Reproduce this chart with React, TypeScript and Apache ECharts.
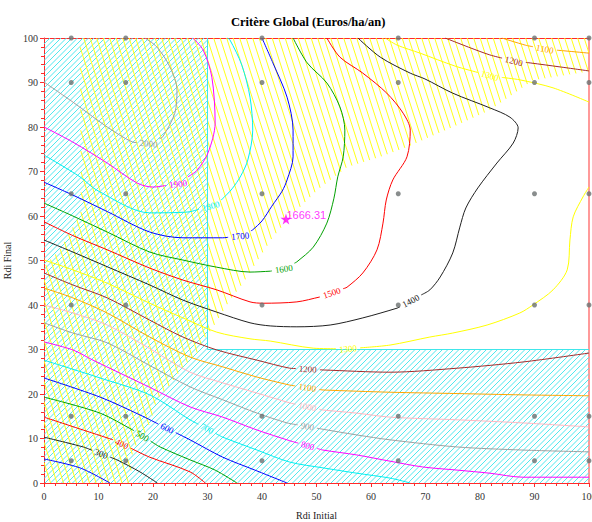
import React, { useEffect, useRef } from "react";
import * as echarts from "echarts";

type Pt = [number, number];

// Simulated runs (Rdi Initial x Rdi Final)
const sampleX = [5, 15, 40, 65, 90, 100];
const sampleY = [5, 15, 40, 65, 90, 100];

// Best point found by the optimiser
const optimum = { rdiInitial: 44.4, rdiFinal: 59.3, value: 1666.31 };

// Constraint zones (hatched)
const cyanZone: Pt[] = [[0, 0], [100, 0], [100, 30], [30, 30], [30, 100], [0, 100]];
const cyanZoneEdge: Pt[] = [[30, 100], [30, 30], [100, 30]];
const yellowZone: Pt[] = [
  [6.6, 100], [6.8, 68], [6.8, 61], [5.3, 57.5], [2.9, 52.4], [1.1, 50.1], [0, 48.5], [0, 0],
  [15.8, 0], [16.1, 5], [16.3, 7.4], [18.9, 11.9], [19.8, 14.8], [20.7, 18.7], [23.1, 22],
  [25.5, 26.1], [28.1, 29.2], [29.2, 32], [31, 35], [34.1, 41.1], [36.5, 44.9], [39.6, 50.8],
  [42, 55.3], [44.2, 58.4], [45.1, 59.8], [48.3, 63.6], [50.1, 65.8], [55.6, 71], [61.7, 73.3],
  [66.6, 75.5], [70.8, 77.8], [75, 80], [81.8, 83.8], [89.7, 90.5], [100, 92.5], [100, 100],
];

// Iso-lines of the global criterion (Euros/ha/an)
const c200: Pt[] = [[0, 5.4], [6.6, 3.4], [12.1, 0]];
const c300: Pt[] = [[0, 10.3], [7.2, 8.1], [13.4, 5.2], [17.6, 2.5], [20.8, 0]];
const c400: Pt[] = [[0, 14.8], [7.2, 11.9], [12.7, 9.7], [19.4, 5.8], [26.8, 2.5], [29.6, 0]];
const c500: Pt[] = [[0, 19.3], [10.3, 15.7], [16.3, 11.9], [21.3, 8.1], [26.8, 5.2], [31.4, 2.9], [35.4, 0]];
const c600: Pt[] = [[0, 23.6], [10.3, 19.3], [17.6, 15.3], [26.8, 9.7], [32.8, 5.8], [38.7, 2.9], [44.6, 0]];
const c700: Pt[] = [
  [0, 27.6], [10.3, 23.6], [19.4, 19.8], [26.8, 14.2], [32.8, 10.3], [39.1, 7.4], [45.1, 4.7],
  [51.2, 3.4], [57.4, 2.2], [63.5, 1.1], [67.2, 0],
];
const c800: Pt[] = [
  [0, 31.7], [5.3, 29.9], [9, 27.6], [19.4, 21.5], [26.8, 17.1], [32.8, 14.8], [39.1, 11.9],
  [45.1, 9.5], [51.2, 7.4], [57.4, 6.3], [63.5, 4.9], [69.5, 3.6], [75.8, 2.9], [81.8, 2.2],
  [87.9, 1.3], [100, 1.3],
];
const c900: Pt[] = [
  [0, 36], [5.3, 33.7], [11.6, 31.5], [19.4, 26.4], [26.8, 21.6], [32.8, 18.7], [39.1, 15.7],
  [44.6, 13.5], [50.6, 12.2], [57.4, 10.8], [63.5, 9.7], [75.8, 8.1], [87.9, 7.4], [100, 7.0],
];
const c1000: Pt[] = [
  [0, 40], [5.3, 38.2], [11.6, 35.5], [19.4, 30.2], [26.8, 24.9], [32.8, 22.5], [39.1, 20.2],
  [45.1, 18], [51.2, 16.4], [57.4, 15.7], [63.5, 14.8], [75.8, 14.2], [87.9, 13.5], [100, 12.6],
];
const c1100: Pt[] = [
  [0, 43.8], [5.3, 41.6], [11.6, 38.2], [19.4, 32.8], [26.8, 28.3], [32.8, 26.1], [39.1, 23.8],
  [45.1, 22], [51.2, 20.9], [63.5, 20.4], [75.8, 20.1], [87.9, 19.8], [100, 19.6],
];
const c1200: Pt[] = [
  [0, 47.2], [5.3, 44.5], [11.6, 41.6], [19.4, 36.6], [25.5, 32.8], [31.7, 29.9], [39.1, 27.6],
  [45.1, 25.8], [51.2, 25.4], [63.5, 24.9], [75.8, 25.8], [87.9, 27.2], [100, 29.2],
];
const c1300: Pt[] = [
  [0, 50.1], [5.3, 47.9], [11.6, 44.9], [19.4, 40.4], [25.5, 37.1], [31.7, 33.9], [37.8, 32.4],
  [41.5, 31.9], [49.4, 30.3], [55.6, 30.1], [63.5, 31.0], [70.8, 32.8], [75, 33.7], [81.3, 35.5],
  [87.3, 38.2], [89.7, 40], [93.4, 43.4], [96, 47.9], [96.5, 54.6], [97.1, 59.8], [98.9, 64.3],
  [100, 66.5],
];
const c1400: Pt[] = [
  [0, 54.6], [5.3, 51.9], [11.6, 48.6], [19.4, 44.5], [25.5, 41.1], [31.7, 38.4], [37.8, 36.0],
  [41.5, 35.3], [46.4, 35.1], [52.5, 35.5], [58.5, 37.1], [64.8, 39.3], [67.3, 40.9], [70.8, 43.4],
  [72.7, 46.3], [75.0, 51.7], [76.3, 57.5], [77.4, 61.8], [79.6, 66.3], [83.1, 71.9], [86.1, 76.4],
  [87.0, 79.8], [85.5, 82.2], [81.8, 84.3], [75.0, 87.6], [69.9, 90.8], [67.2, 92.1], [61.7, 95.7],
  [57.6, 100],
];
const c1500: Pt[] = [
  [0, 58.7], [5.3, 55.6], [11.6, 52.4], [19.4, 48.3], [25.5, 45.6], [31.7, 43.4], [37.8, 40.7],
  [40.2, 40.4], [46.4, 40.7], [50.6, 41.8], [52.8, 42.7], [55.6, 44.0], [58.5, 47.2], [61.1, 52.4],
  [62.2, 58.4], [62.8, 63.6], [64.0, 68.1], [66.6, 73.3], [67.2, 79.3], [65.9, 83.1], [62.9, 87.6],
  [58.5, 92.1], [54.3, 95.7], [51.9, 100],
];
const c1600: Pt[] = [
  [0, 62.9], [5.3, 60.0], [11.6, 56.4], [19.4, 51.9], [25.5, 50.1], [31.7, 48.5], [37.8, 47.4],
  [41.5, 47.6], [44.0, 48.1], [46.4, 49.7], [49.4, 53.0], [51.9, 58.4], [53.2, 64.0], [53.9, 68.8],
  [54.9, 73.3], [55.2, 79.3], [54.3, 84.5], [51.9, 89.9], [48.3, 94.4], [45.7, 100],
];
const c1700: Pt[] = [
  [0, 67.6], [5.3, 64.7], [11.6, 61.0], [19.4, 56.4], [25.5, 55.1], [32.8, 55.1], [36.3, 55.5],
  [38.3, 56.9], [40.0, 58.9], [41.8, 62.2], [43.7, 65.6], [44.6, 68.1], [45.7, 73.3], [45.7, 79.3],
  [44.6, 86.7], [42.0, 94.4], [40.0, 100],
];
const c1800: Pt[] = [
  [0, 73.7], [6.6, 68.8], [9.7, 65.8], [19.4, 60.7], [26.4, 60.9], [30.6, 62.2], [32.7, 63.8],
  [34.5, 66.1], [36.1, 69.0], [37.4, 72.6], [38.3, 79.3], [37.8, 86.7], [36.3, 93.9], [34.1, 99.6],
  [33.6, 100],
];
const c1900: Pt[] = [
  [0, 80], [5.3, 76.6], [11.6, 71.9], [17.1, 67.4], [20, 66.5], [24.6, 67.2], [28.1, 70.3],
  [30.1, 74.2], [31.4, 80.9], [30.8, 91.2], [29.2, 97.3], [27.3, 100],
];
const c2000: Pt[] = [
  [0, 90.1], [5.3, 85.6], [11.6, 80], [16.3, 76.6], [19.4, 76.2], [21.8, 77.8], [24, 83.1],
  [24.4, 88.3], [23.1, 93.5], [20.7, 98], [18.5, 100],
];
const c1100North: Pt[] = [[84, 100], [88.3, 98.4], [91.9, 97.5], [95.6, 97.1], [100, 96.6]];
const c1200North: Pt[] = [[73.6, 100], [78.2, 97.8], [81.8, 96.2], [86.2, 94.8], [89.2, 94.4], [94.7, 93.5], [100, 92.6]];
const c1300North: Pt[] = [[62.6, 100], [64.8, 98.4], [69, 96.6], [75.4, 93.7], [81.8, 91.5], [87.3, 90.6], [93.4, 88.8], [100, 85.6]];

const contours: { level: number; pts: Pt[] }[] = [
  { level: 200, pts: c200 }, { level: 300, pts: c300 }, { level: 400, pts: c400 },
  { level: 500, pts: c500 }, { level: 600, pts: c600 }, { level: 700, pts: c700 },
  { level: 800, pts: c800 }, { level: 900, pts: c900 }, { level: 1000, pts: c1000 },
  { level: 1100, pts: c1100 }, { level: 1200, pts: c1200 }, { level: 1300, pts: c1300 },
  { level: 1400, pts: c1400 }, { level: 1500, pts: c1500 }, { level: 1600, pts: c1600 },
  { level: 1700, pts: c1700 }, { level: 1800, pts: c1800 }, { level: 1900, pts: c1900 },
  { level: 2000, pts: c2000 }, { level: 1100, pts: c1100North }, { level: 1200, pts: c1200North },
  { level: 1300, pts: c1300North },
];

// where each iso-line carries its value: [level, rdiInitial, rdiFinal]
const contourLabels: [number, number, number][] = [
  [300, 10.5, 6.6], [400, 14.3, 8.8], [500, 18.0, 10.5], [600, 22.6, 12.3], [700, 29.9, 12.2],
  [800, 48.3, 8.0], [900, 48.3, 12.6], [1000, 48.3, 17.0], [1100, 48.3, 21.3], [1200, 48.4, 25.6],
  [1300, 55.8, 30.0], [1400, 67.3, 40.9], [1500, 52.8, 42.7], [1600, 44.0, 48.1],
  [1700, 36.0, 55.4], [1800, 30.6, 62.2], [1900, 24.6, 67.2], [2000, 19.2, 76.4],
  [1100, 91.9, 97.5], [1200, 86.2, 94.8], [1300, 81.8, 91.5],
];

const levelColor: Record<number, string> = {
  200: "#0000ff", 300: "#202020", 400: "#ff0000", 500: "#00a000", 600: "#0000ff",
  700: "#00f0f0", 800: "#ff00ff", 900: "#a0a0a0", 1000: "#ffb6c1", 1100: "#ffa500",
  1200: "#a52a2a", 1300: "#ffff00", 1400: "#202020", 1500: "#ff0000", 1600: "#00a000",
  1700: "#0000ff", 1800: "#00f0f0", 1900: "#ff00ff", 2000: "#a0a0a0",
};

const W = 592;
const H = 522;
const GRID = { left: 44, top: 38, right: 3, bottom: 39 };
const SX = (W - GRID.left - GRID.right) / 100;
const SY = (H - GRID.top - GRID.bottom) / 100;

type LabelItem = { x: number; y: number; rot: number; level: number };

function splitContours() {
  const pieces: { level: number; pts: Pt[] }[] = [];
  const labels: LabelItem[] = [];
  for (const c of contours) {
    const px = c.pts.map((p) => [p[0] * SX, -p[1] * SY]);
    const cum = [0];
    for (let i = 1; i < px.length; i++) {
      cum.push(cum[i - 1] + Math.hypot(px[i][0] - px[i - 1][0], px[i][1] - px[i - 1][1]));
    }
    const total = cum[cum.length - 1];
    const pointAt = (s: number): Pt => {
      for (let i = 0; i < px.length - 1; i++) {
        if (s <= cum[i + 1] || i === px.length - 2) {
          const L = cum[i + 1] - cum[i] || 1;
          const r = Math.max(0, Math.min(1, (s - cum[i]) / L));
          return [
            c.pts[i][0] + r * (c.pts[i + 1][0] - c.pts[i][0]),
            c.pts[i][1] + r * (c.pts[i + 1][1] - c.pts[i][1]),
          ];
        }
      }
      return c.pts[c.pts.length - 1];
    };
    const cuts: [number, number][] = [];
    for (const [lv, lx, ly] of contourLabels) {
      if (lv !== c.level) continue;
      const q = [lx * SX, -ly * SY];
      let best = { d: Infinity, s: 0, i: 0 };
      for (let i = 0; i < px.length - 1; i++) {
        const vx = px[i + 1][0] - px[i][0];
        const vy = px[i + 1][1] - px[i][1];
        const L2 = vx * vx + vy * vy;
        let t = L2 > 0 ? ((q[0] - px[i][0]) * vx + (q[1] - px[i][1]) * vy) / L2 : 0;
        t = Math.max(0, Math.min(1, t));
        const d = Math.hypot(q[0] - (px[i][0] + t * vx), q[1] - (px[i][1] + t * vy));
        if (d < best.d) best = { d, s: cum[i] + t * Math.sqrt(L2), i };
      }
      if (best.d > 12) continue;
      const a = px[best.i];
      const b = px[best.i + 1];
      let rot = Math.atan2(-(b[1] - a[1]), b[0] - a[0]);
      if (rot > Math.PI / 2) rot -= Math.PI;
      if (rot < -Math.PI / 2) rot += Math.PI;
      const at = pointAt(best.s);
      labels.push({ x: at[0], y: at[1], rot, level: lv });
      const half = String(lv).length * 2.4 + 2.5;
      cuts.push([best.s - half, best.s + half]);
    }
    cuts.sort((u, v) => u[0] - v[0]);
    const sub = (s0: number, s1: number): Pt[] => {
      const out: Pt[] = [pointAt(s0)];
      for (let i = 0; i < px.length; i++) if (cum[i] > s0 && cum[i] < s1) out.push(c.pts[i]);
      out.push(pointAt(s1));
      return out;
    };
    let start = 0;
    for (const [a, b] of cuts) {
      if (a > start) pieces.push({ level: c.level, pts: sub(start, a) });
      start = Math.max(start, b);
    }
    if (start < total) pieces.push({ level: c.level, pts: sub(start, total) });
  }
  return { pieces, labels };
}

function hatch(poly: number[][], dir: Pt, gap: number) {
  const len = Math.hypot(dir[0], dir[1]);
  const ux = dir[0] / len;
  const uy = dir[1] / len;
  const nx = -uy;
  const ny = ux;
  const step = gap * Math.abs(uy);
  const proj = poly.map((p) => p[0] * nx + p[1] * ny);
  const tmin = Math.min(...proj);
  const tmax = Math.max(...proj);
  const segs: number[][][] = [];
  for (let k = Math.ceil(tmin / step); k * step <= tmax; k++) {
    const c = k * step + 0.013;
    const hits: number[][] = [];
    for (let i = 0; i < poly.length; i++) {
      const j = (i + 1) % poly.length;
      const ta = proj[i];
      const tb = proj[j];
      if ((ta <= c && tb > c) || (tb <= c && ta > c)) {
        const r = (c - ta) / (tb - ta);
        const x = poly[i][0] + r * (poly[j][0] - poly[i][0]);
        const y = poly[i][1] + r * (poly[j][1] - poly[i][1]);
        hits.push([x, y, x * ux + y * uy]);
      }
    }
    hits.sort((a, b) => a[2] - b[2]);
    for (let h = 0; h + 1 < hits.length; h += 2) segs.push([hits[h], hits[h + 1]]);
  }
  return segs;
}

function hatchSeries(zone: Pt[], dir: Pt, gap: number, color: string) {
  return {
    type: "custom",
    silent: true,
    clip: true,
    z: 1,
    data: [[50, 50]],
    renderItem: (_params: any, api: any) => {
      const poly = zone.map((p) => api.coord(p));
      const segs = hatch(poly, dir, gap);
      return {
        type: "group",
        children: segs.map(([a, b]) => ({
          type: "line",
          shape: { x1: a[0], y1: a[1], x2: b[0], y2: b[1] },
          style: { stroke: color, lineWidth: 1 },
        })),
      };
    },
  };
}

function buildOption() {
  const { pieces, labels } = splitContours();
  const serif = "Liberation Serif";
  const axisRed = "#ff2a2a";

  const samples: Pt[] = [];
  for (const y of sampleY) for (const x of sampleX) samples.push([x, y]);

  const series: any[] = [
    hatchSeries(cyanZone, [1, -1], 5.5, "#4ee8ee"),
    hatchSeries(yellowZone, [0.32, 1], 6.5, "#ffff1a"),
    {
      type: "line",
      data: cyanZoneEdge,
      showSymbol: false,
      silent: true,
      z: 2,
      lineStyle: { color: "#40e6ea", width: 1 },
    },
    ...pieces.map((p) => ({
      type: "line",
      data: p.pts,
      showSymbol: false,
      silent: true,
      smooth: 0.3,
      z: 3,
      lineStyle: { color: levelColor[p.level], width: 1 },
    })),
    {
      type: "custom",
      silent: true,
      clip: true,
      z: 4,
      data: labels.map((l) => [l.x, l.y]),
      renderItem: (params: any, api: any) => {
        const l = labels[params.dataIndex];
        const [x, y] = api.coord([l.x, l.y]);
        return {
          type: "text",
          x,
          y,
          rotation: l.rot,
          style: {
            text: String(l.level),
            fill: levelColor[l.level],
            fontFamily: serif,
            fontSize: 9,
            align: "center",
            verticalAlign: "middle",
            textAlign: "center",
            textVerticalAlign: "middle",
          },
        };
      },
    },
    {
      type: "scatter",
      data: samples,
      symbol: "circle",
      symbolSize: 5,
      silent: true,
      z: 5,
      itemStyle: { color: "#6c7070" },
    },
    {
      type: "scatter",
      data: [[optimum.rdiInitial, optimum.rdiFinal]],
      symbol:
        "path://M50,0 L61,35 L98,35 L68,57 L79,91 L50,70 L21,91 L32,57 L2,35 L39,35 Z",
      symbolSize: 11,
      silent: true,
      z: 6,
      itemStyle: { color: "#ff00ff" },
      label: {
        show: true,
        position: "right",
        distance: -5,
        offset: [0, -4],
        formatter: () => optimum.value.toFixed(2),
        color: "#ff00ff",
        fontFamily: "Liberation Sans",
        fontSize: 11,
      },
    },
  ];

  return {
    animation: false,
    backgroundColor: "#ffffff",
    title: {
      text: "Critère Global (Euros/ha/an)",
      left: 226,
      top: 10,
      textStyle: { fontFamily: serif, fontWeight: "bold", fontSize: 12.5, color: "#000" },
    },
    grid: {
      left: GRID.left,
      top: GRID.top,
      right: GRID.right,
      bottom: GRID.bottom,
      containLabel: false,
      outerBoundsMode: "none",
    },
    xAxis: [
      {
        type: "value",
        min: 0,
        max: 100,
        interval: 10,
        position: "bottom",
        axisLine: { onZero: false, lineStyle: { color: axisRed, width: 1 } },
        axisTick: { show: true, length: 4, lineStyle: { color: axisRed } },
        minorTick: { show: true, splitNumber: 5, length: 3, lineStyle: { color: axisRed } },
        splitLine: { show: false },
        minorSplitLine: { show: false },
        axisLabel: { color: "#333", fontFamily: serif, fontSize: 10, margin: 8 },
        name: "Rdi Initial",
        nameLocation: "middle",
        nameGap: 27,
        nameTextStyle: { color: "#222", fontFamily: serif, fontSize: 10 },
      },
      {
        type: "value",
        min: 0,
        max: 100,
        position: "top",
        axisLine: { onZero: false, lineStyle: { color: axisRed, width: 1 } },
        axisTick: { show: false },
        axisLabel: { show: false },
        splitLine: { show: false },
      },
    ],
    yAxis: [
      {
        type: "value",
        min: 0,
        max: 100,
        interval: 10,
        position: "left",
        axisLine: { onZero: false, lineStyle: { color: axisRed, width: 1 } },
        axisTick: { show: true, length: 4, lineStyle: { color: axisRed } },
        minorTick: { show: true, splitNumber: 5, length: 3, lineStyle: { color: axisRed } },
        splitLine: { show: false },
        minorSplitLine: { show: false },
        axisLabel: { color: "#333", fontFamily: serif, fontSize: 10, margin: 6 },
        name: "Rdi Final",
        nameLocation: "middle",
        nameRotate: 90,
        nameGap: 23,
        nameTextStyle: { color: "#222", fontFamily: serif, fontSize: 10 },
      },
      {
        type: "value",
        min: 0,
        max: 100,
        position: "right",
        axisLine: { onZero: false, lineStyle: { color: "#ff9a9a", width: 2 } },
        axisTick: { show: false },
        axisLabel: { show: false },
        splitLine: { show: false },
      },
    ],
    series,
  };
}

export default function App() {
  const ref = useRef<HTMLDivElement>(null);
  useEffect(() => {
    if (!ref.current) return;
    const chart = echarts.init(ref.current, null, { renderer: "svg" });
    chart.setOption(buildOption() as any);
    return () => chart.dispose();
  }, []);
  return (
    <div
      ref={ref}
      style={{ position: "fixed", left: 0, top: 0, width: W, height: H, background: "#fff" }}
    />
  );
}
